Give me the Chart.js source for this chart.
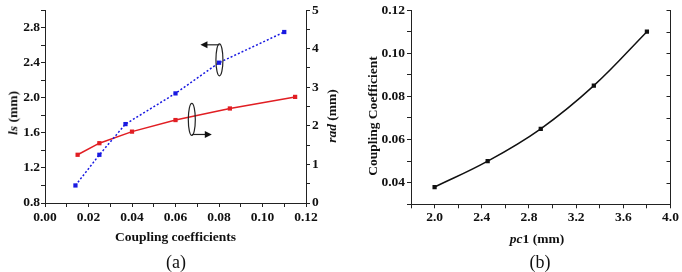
<!DOCTYPE html>
<html><head><meta charset="utf-8">
<script src="https://cdn.jsdelivr.net/npm/chart.js@4/dist/chart.umd.min.js"></script>
<style>
html,body{margin:0;padding:0;background:#fff;}
#wrap{position:relative;width:682px;height:272px;overflow:hidden;background:#fff;font-family:'Liberation Serif','Times New Roman',serif;color:#111;}
canvas{position:absolute;top:0;}
.t{position:absolute;white-space:nowrap;line-height:1;font-weight:bold;font-size:13.5px;transform:translate(-50%,-50%);}
.r{transform:translate(-50%,-50%) rotate(-90deg);}
.cap{position:absolute;white-space:nowrap;font-size:18px;line-height:1;transform:translate(-50%,-50%);}
</style></head><body>
<div id="wrap">
<canvas id="ca" width="340" height="272" style="left:0"></canvas>
<canvas id="cb" width="342" height="272" style="left:340px"></canvas>
<div class="t r" style="left:13px;top:113px"><i>ls</i> (mm)</div>
<div class="t r" style="left:332px;top:116px"><i>rad</i> (mm)</div>
<div class="t r" style="left:373px;top:116px">Coupling Coefficient</div>
<div class="t" style="left:537px;top:239px"><i>pc</i>1 (mm)</div>
<div class="cap" style="left:176px;top:262px">(a)</div>
<div class="cap" style="left:540px;top:262px">(b)</div>
</div>
<script>
// ---- data (a) ----
const couplingLs = [0.014, 0.025, 0.037, 0.060, 0.080, 0.110];
const lsValues   = [1.00, 1.35, 1.70, 2.05, 2.40, 2.75];
const couplingRad = [0.015, 0.025, 0.040, 0.060, 0.085, 0.115];
const radValues   = [1.25, 1.55, 1.85, 2.15, 2.45, 2.75];
const xTickLabelsA = ['0.00','0.02','0.04','0.06','0.08','0.10','0.12'];
const yLeftTickLabelsA = ['0.8','1.2','1.6','2.0','2.4','2.8'];
const yRightTickLabelsA = ['0','1','2','3','4','5'];
// ---- data (b) ----
const pc1Values = [2.00, 2.45, 2.90, 3.35, 3.80];
const couplingB = [0.038, 0.050, 0.065, 0.085, 0.110];
const xTickLabelsB = ['2.0','2.4','2.8','3.2','3.6','4.0'];
const yTickLabelsB = ['0.04','0.06','0.08','0.10','0.12'];
// annotation anchors (data units)
const ringLs = {x: 0.0802, y: 2.433};
const ringRad = {x: 0.0675, y: 2.165};

const FONT = {family: "'Liberation Serif','Times New Roman',serif", size: 13.5, weight: 'bold'};
const AX = '#222';
const BLUE = 'rgb(25,25,225)';
const RED = 'rgb(225,30,35)';

function pts(xs, ys){ return xs.map((x,i)=>({x:x, y:ys[i]})); }
function fmtIn(list, digits){
  return function(v){ const s = Number(v).toFixed(digits); return list.includes(s) ? s : ''; };
}
function axisBase(extra){
  return Object.assign({
    type: 'linear',
    grid: {display: true, drawOnChartArea: false, drawTicks: true, tickLength: 4, tickColor: AX, tickWidth: 1},
    border: {display: true, color: AX, width: 1}
  }, extra);
}

Chart.defaults.font.family = FONT.family;
Chart.defaults.color = '#111';

function arrow(ctx, x0, y, x1){
  const dir = Math.sign(x1 - x0);
  ctx.beginPath(); ctx.moveTo(x0, y); ctx.lineTo(x1 - dir*5, y); ctx.stroke();
  ctx.beginPath(); ctx.moveTo(x1, y); ctx.lineTo(x1 - dir*7, y - 3.5); ctx.lineTo(x1 - dir*7, y + 3.5); ctx.closePath(); ctx.fill();
}

const ringPlugin = {
  id: 'rings',
  afterDatasetsDraw(chart){
    const ctx = chart.ctx, sx = chart.scales.x, sy = chart.scales.y, sy1 = chart.scales.y1;
    ctx.save();
    ctx.strokeStyle = '#222'; ctx.fillStyle = '#111'; ctx.lineWidth = 1.2;
    const rx = 3.5, ry = 16;
    let cx = sx.getPixelForValue(ringLs.x), cy = sy.getPixelForValue(ringLs.y);
    ctx.beginPath(); ctx.ellipse(cx, cy, rx, ry, 0, 0, Math.PI*2); ctx.stroke();
    arrow(ctx, cx, cy - ry + 1, cx - 19);
    cx = sx.getPixelForValue(ringRad.x); cy = sy1.getPixelForValue(ringRad.y);
    ctx.beginPath(); ctx.ellipse(cx, cy, rx, ry, 0, 0, Math.PI*2); ctx.stroke();
    arrow(ctx, cx, cy + ry - 1, cx + 20);
    ctx.restore();
  }
};

new Chart(document.getElementById('ca'), {
  type: 'line',
  data: {
    datasets: [
      {label: 'ls', data: pts(couplingLs, lsValues), yAxisID: 'y',
       borderColor: BLUE, backgroundColor: BLUE, borderWidth: 1.5, borderDash: [2,2],
       pointStyle: 'rect', pointRadius: 3, pointBorderWidth: 0, pointBackgroundColor: BLUE, tension: 0, fill: false},
      {label: 'rad', data: pts(couplingRad, radValues), yAxisID: 'y1',
       borderColor: RED, backgroundColor: RED, borderWidth: 1.5,
       pointStyle: 'rect', pointRadius: 3, pointBorderWidth: 0, pointBackgroundColor: RED, tension: 0, fill: false}
    ]
  },
  options: {
    responsive: false, animation: false, devicePixelRatio: 1,
    layout: {padding: {top: 9, left: 0, right: 0, bottom: 0}},
    plugins: {legend: {display: false}, tooltip: {enabled: false}},
    scales: {
      x: axisBase({position: 'bottom', min: 0, max: 0.12,
        ticks: {stepSize: 0.01, autoSkip: false, maxRotation: 0, font: FONT, color: '#111', padding: 2, callback: fmtIn(xTickLabelsA, 2)},
        title: {display: true, text: 'Coupling coefficients', font: FONT, color: '#111', padding: {top: 0, bottom: 26}},
        afterFit: s => { s.height = 69; }}),
      y: axisBase({position: 'left', min: 0.8, max: 3.0,
        ticks: {stepSize: 0.2, autoSkip: false, font: FONT, color: '#111', padding: 1, callback: fmtIn(yLeftTickLabelsA, 1)},
        afterFit: s => { s.width = 45; }}),
      y1: axisBase({position: 'right', min: 0, max: 5,
        ticks: {stepSize: 0.5, autoSkip: false, font: FONT, color: '#111', padding: 2,
          callback: v => { const s = Math.abs(v - Math.round(v)) < 1e-9 ? String(Math.round(v)) : ''; return yRightTickLabelsA.includes(s) ? s : ''; }},
        afterFit: s => { s.width = 34; }})
    }
  },
  plugins: [ringPlugin]
});

const innerTicks = {
  id: 'innerTicks',
  afterDraw(chart){
    const ctx = chart.ctx, sy = chart.scales.y, right = chart.chartArea.right;
    ctx.save(); ctx.strokeStyle = AX; ctx.lineWidth = 1;
    sy.ticks.forEach(t => {
      const y = Math.round(sy.getPixelForValue(t.value)) + 0.5;
      ctx.beginPath(); ctx.moveTo(right - 4, y); ctx.lineTo(right, y); ctx.stroke();
    });
    ctx.restore();
  }
};

new Chart(document.getElementById('cb'), {
  type: 'line',
  data: {
    datasets: [
      {label: 'Coupling Coefficient', data: pts(pc1Values, couplingB), yAxisID: 'y',
       borderColor: '#111', backgroundColor: '#111', borderWidth: 1.5,
       pointStyle: 'rect', pointRadius: 3, pointBorderWidth: 0, pointBackgroundColor: '#111', tension: 0.4, fill: false}
    ]
  },
  options: {
    responsive: false, animation: false, devicePixelRatio: 1,
    layout: {padding: {top: 10, left: 0, right: 11.5, bottom: 0}},
    plugins: {legend: {display: false}, tooltip: {enabled: false}},
    scales: {
      x: axisBase({position: 'bottom', min: 1.8, max: 4.0,
        ticks: {stepSize: 0.2, autoSkip: false, maxRotation: 0, font: FONT, color: '#111', padding: 1, callback: fmtIn(xTickLabelsB, 1)},
        afterFit: s => { s.height = 67.7; }}),
      y: axisBase({position: 'left', min: 0.03, max: 0.12,
        ticks: {stepSize: 0.01, autoSkip: false, font: FONT, color: '#111', padding: 2, callback: fmtIn(yTickLabelsB, 2)},
        afterFit: s => { s.width = 71; }}),
      y2: {type: 'linear', position: 'right', min: 0.03, max: 0.12,
        ticks: {display: false}, grid: {display: false, drawTicks: false},
        border: {display: true, color: AX, width: 1},
        afterFit: s => { s.width = 0; }}
    }
  },
  plugins: [innerTicks]
});
</script>
</body></html>
